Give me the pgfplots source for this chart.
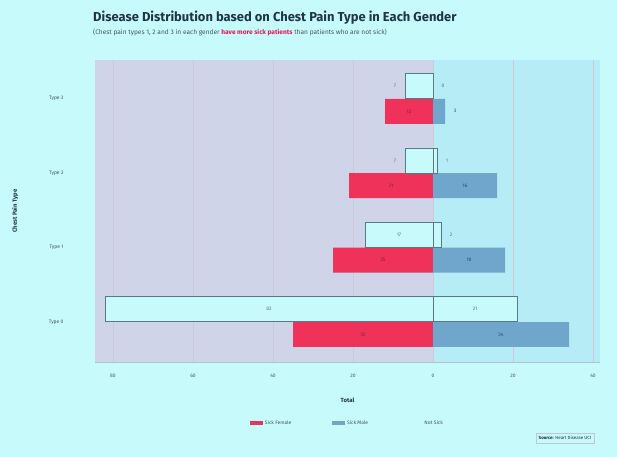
\documentclass[border=0pt]{standalone}
\usepackage{pgfplots}
\pgfplotsset{compat=1.18}
\usepackage{pgfplotstable}
\usepackage{fontspec}
\setmainfont{Fira Sans}
\definecolor{figbg}{RGB}{199,250,250}
\definecolor{panelL}{RGB}{208,212,232}
\definecolor{panelR}{RGB}{181,236,246}
\definecolor{sickM}{RGB}{238,50,90}
\definecolor{sickF}{RGB}{112,166,204}
\definecolor{edge}{RGB}{88,122,132}
\definecolor{titlec}{RGB}{30,52,72}
\definecolor{txt}{RGB}{70,90,95}
\definecolor{hl}{RGB}{222,30,90}

% values and label positions
\pgfplotstableread{
type mns fns ms fs mnsx fnsx msx fsx
0 82 21 35 34 -41 10.5 -17.5 17
1 17 2 25 18 -8.5 4.5 -12.5 9
2 7 1 21 16 -9.5 3.5 -10.5 8
3 7 0 12 3 -9.5 2.5 -6 5.5
}\data

\begin{document}
\begin{tikzpicture}
\begin{axis}[
 set layers, clip=false,
 at={(95bp,95bp)}, anchor=south west,
 scale only axis, width=505bp, height=302bp,
 xmin=-84.5, xmax=41.75, ymin=-0.54, ymax=3.52,
 axis line style={draw=none},
 xtick={-80,-60,-40,-20,0,20,40},
 xticklabels={80,60,40,20,0,20,40},
 ytick={0,1,2,3},
 yticklabels={Type 0,Type 1,Type 2,Type 3},
 major tick length=0pt,
 xmajorgrids,
 major grid style={color=panelL!75!gray!80, line width=0.4pt},
 tick label style={font=\fontsize{5}{6}\selectfont, text=txt},
 xticklabel style={yshift=-9bp},
 yticklabel style={xshift=-28bp},
 /pgf/number format/assume math mode=true,
 xlabel={Total},
 ylabel={Chest Pain Type},
 xlabel style={at={(axis description cs:0.5,-0.126)}, anchor=center, font=\bfseries\fontsize{6}{7}\selectfont, text=titlec},
 ylabel style={at={(axis description cs:-0.158,0.5)}, anchor=center, font=\bfseries\fontsize{6}{7}\selectfont, text=titlec},
 legend style={at={(axis description cs:0.5,-0.202)}, anchor=center, draw=none, fill=none,
   font=\fontsize{5}{6}\selectfont, text=txt, legend columns=3,
   /tikz/every even column/.append style={column sep=39bp}},
 legend cell align=left,
 every node near coord/.append style={font=\fontsize{5}{6}\selectfont},
]
\begin{pgfonlayer}{axis background}
\fill[figbg] (rel axis cs:-0.18812,-0.31457) rectangle (rel axis cs:1.03366,1.19868);
\fill[panelL] (axis cs:-84.5,-0.54) rectangle (axis cs:0,3.52);
\fill[panelR] (axis cs:0,-0.54) rectangle (axis cs:41.75,3.52);
\end{pgfonlayer}
\draw[color=edge!45, line width=0.6pt] (axis cs:-84.5,-0.54) -- (axis cs:41.75,-0.54);

% sick bars
\addplot[xbar, bar shift=0pt, bar width=0.335, fill=sickM, draw=none,
  legend image code/.code={\fill[sickM] (0cm,-0.08cm) rectangle (0.45cm,0.08cm);}]
  table[x expr=-\thisrow{ms}, y expr=\thisrow{type}-0.17] {\data};
\addlegendentry{Sick Female}
\addplot[xbar, bar shift=0pt, bar width=0.335, fill=sickF, draw=none,
  legend image code/.code={\fill[sickF] (0cm,-0.08cm) rectangle (0.45cm,0.08cm);}]
  table[x expr=\thisrow{fs}, y expr=\thisrow{type}-0.17] {\data};
\addlegendentry{Sick Male}
% not sick bars
\addplot[xbar, bar shift=0pt, bar width=0.335, fill=figbg, draw=edge, line width=0.5pt,
  legend image code/.code={\fill[figbg] (0cm,-0.08cm) rectangle (0.45cm,0.08cm);}]
  table[x expr=-\thisrow{mns}, y expr=\thisrow{type}+0.17] {\data};
\addlegendentry{Not Sick}
\addplot[xbar, bar shift=0pt, bar width=0.335, fill=figbg, draw=edge, line width=0.5pt, forget plot]
  table[x expr=\thisrow{fns}, y expr=\thisrow{type}+0.17] {\data};

% value labels
\addplot[only marks, mark=none, forget plot, nodes near coords, point meta=explicit symbolic,
  nodes near coords align=center, every node near coord/.append style={text=sickM!60!black}]
  table[x=msx, y expr=\thisrow{type}-0.17, meta=ms] {\data};
\addplot[only marks, mark=none, forget plot, nodes near coords, point meta=explicit symbolic,
  nodes near coords align=center, every node near coord/.append style={text=sickF!45!black}]
  table[x=fsx, y expr=\thisrow{type}-0.17, meta=fs] {\data};
\addplot[only marks, mark=none, forget plot, nodes near coords, point meta=explicit symbolic,
  nodes near coords align=center, every node near coord/.append style={text=edge}]
  table[x=mnsx, y expr=\thisrow{type}+0.17, meta=mns] {\data};
\addplot[only marks, mark=none, forget plot, nodes near coords, point meta=explicit symbolic,
  nodes near coords align=center, every node near coord/.append style={text=edge}]
  table[x=fnsx, y expr=\thisrow{type}+0.17, meta=fns] {\data};
\end{axis}
\node[anchor=base west, font=\bfseries\fontsize{13}{15}\selectfont, text=titlec, inner sep=0] at (93bp,435bp) {Disease Distribution based on Chest Pain Type in Each Gender};
\node[anchor=base west, font=\fontsize{6.6}{8}\selectfont, text=txt, inner sep=0] at (93bp,422bp) {(Chest pain types 1, 2 and 3 in each gender \textcolor{hl}{\bfseries have more sick patients} than patients who are not sick)};
\node[draw=edge!40, font=\fontsize{4.5}{5}\selectfont, text=titlec, inner sep=3bp] at (565bp,19bp) {\textbf{Source:} Heart Disease UCI};
\end{tikzpicture}
\end{document}
